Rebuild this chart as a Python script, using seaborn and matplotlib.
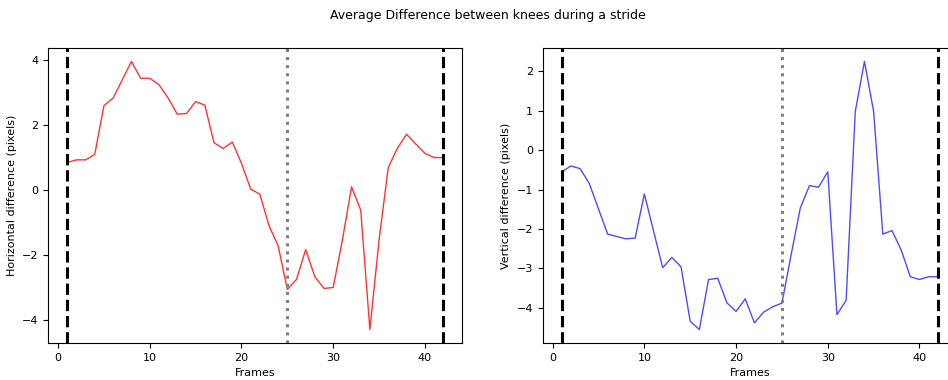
import matplotlib
matplotlib.use("Agg")
import matplotlib.pyplot as plt
import seaborn as sns
import numpy as np
import pandas as pd

frames = list(range(1, 43))
horizontal_diff = [0.85, 0.93, 0.93, 1.10, 2.60, 2.84, 3.40, 3.97, 3.45, 3.45,
                   3.25, 2.84, 2.34, 2.36, 2.73, 2.62, 1.46, 1.28, 1.48, 0.82,
                   0.03, -0.13, -1.10, -1.73, -3.07, -2.76, -1.84, -2.68, -3.04, -3.01,
                   -1.55, 0.10, -0.62, -4.31, -1.55, 0.69, 1.29, 1.72, 1.42, 1.13,
                   1.00, 1.00]
vertical_diff = [-0.55, -0.40, -0.47, -0.85, -1.49, -2.13, -2.19, -2.25, -2.23, -1.11,
                 -2.05, -2.98, -2.72, -2.96, -4.34, -4.55, -3.28, -3.25, -3.87, -4.09,
                 -3.77, -4.38, -4.11, -3.97, -3.88, -2.66, -1.47, -0.90, -0.94, -0.55,
                 -4.17, -3.81, 0.98, 2.25, 0.98, -2.13, -2.04, -2.53, -3.21, -3.28,
                 -3.21, -3.21]
stride_start = 1
stride_mid = 25
stride_end = 42

title = "Average Difference between knees during a stride"
xlabel = "Frames"
ylabels = ["Horizontal difference (pixels)", "Vertical difference (pixels)"]

plt.rcParams.update({"font.size": 8, "font.family": ["DejaVu Sans"]})

fig = plt.figure(figsize=(9.48, 3.8), dpi=100)
ax1 = fig.add_axes([0.0511, 0.0974, 0.4363, 0.7763])
ax2 = fig.add_axes([0.5728, 0.0974, 0.4363, 0.7763])

df = pd.DataFrame({"frame": frames, "h": horizontal_diff, "v": vertical_diff})

sns.lineplot(data=df, x="frame", y="h", ax=ax1, color="red", alpha=0.8, linewidth=1)
sns.lineplot(data=df, x="frame", y="v", ax=ax2, color="blue", alpha=0.7, linewidth=1)

for ax, yl in zip([ax1, ax2], ylabels):
    ax.axvline(stride_start, color="black", linestyle="--", linewidth=2.2)
    ax.axvline(stride_end, color="black", linestyle="--", linewidth=2.2)
    ax.axvline(stride_mid, color="grey", linestyle=":", linewidth=2.2)
    ax.set_xlabel(xlabel)
    ax.set_ylabel(yl)

ax1.set_yticks([-4, -2, 0, 2, 4])
ax2.set_yticks([-4, -3, -2, -1, 0, 1, 2])

fig.suptitle(title, x=0.515, y=0.975, fontsize=9)
fig.savefig("out.png", dpi=100)
